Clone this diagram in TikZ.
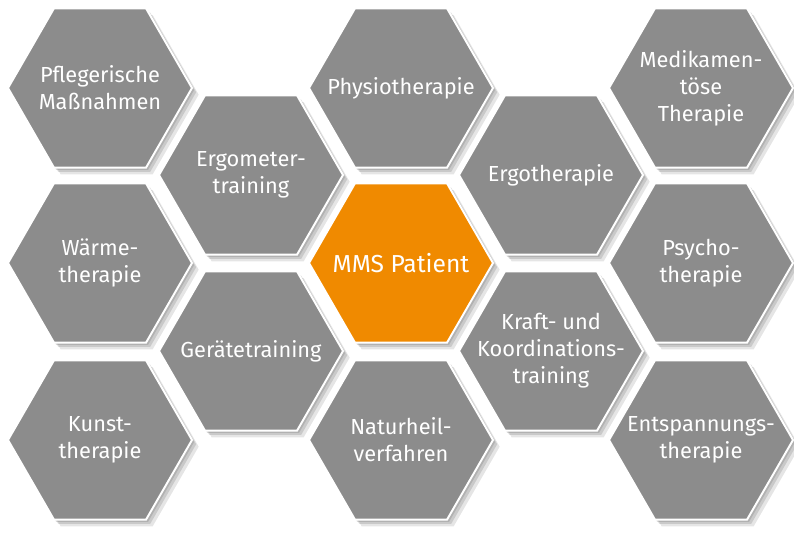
\documentclass[tikz,border=0pt]{standalone}
\usepackage{fontspec}
\setmainfont{Fira Sans}
\usetikzlibrary{shapes.geometric,shadows}

\definecolor{hexgray}{RGB}{140,140,140}
\definecolor{mmsorange}{RGB}{240,138,0}

\tikzset{
  softshadow/.style={
    drop shadow={shadow xshift=1.2pt, shadow yshift=-1.2pt, opacity=0.12, fill=black},
    drop shadow={shadow xshift=2.4pt, shadow yshift=-2.4pt, opacity=0.12, fill=black},
    drop shadow={shadow xshift=3.8pt, shadow yshift=-3.8pt, opacity=0.10, fill=black}},
  hex/.style={regular polygon, regular polygon sides=6, minimum size=3.68cm,
    inner sep=0pt, fill=hexgray, draw=white, line width=1.1pt, softshadow},
  hextext/.style={text=white, align=center, font=\fontsize{12.4}{15.4}\selectfont},
  mmstext/.style={text=white, font=\fontsize{14}{17}\selectfont},
}

\begin{document}
\begin{tikzpicture}[x=0.02cm, y=-0.02cm]
  \useasboundingbox (0,0) rectangle (794,535);

  % Draw the outer columns
  \node[hex, label={[hextext]center:{Pflegerische\\Maßnahmen}}] (pflege) at (100,88) {};
  \node[hex, label={[hextext]center:{Wärme-\\therapie}}] (waerme) at (100,263) {};
  \node[hex, label={[hextext]center:{Kunst-\\therapie}}] (kunst) at (100,440) {};

  \node[hex, label={[hextext]center:{Medikamen-\\töse\\Therapie}}] (medi) at (701,88) {};
  \node[hex, label={[hextext]center:{Psycho-\\therapie}}] (psycho) at (701,263) {};
  \node[hex, label={[hextext]center:{Entspannungs-\\therapie}}] (entspann) at (701,440) {};

  % Draw the inner columns
  \node[hex, label={[hextext]center:{Ergometer-\\training}}] (ergometer) at (251,175) {};
  \node[hex, label={[hextext]center:{Gerätetraining}}] (geraete) at (251,351) {};

  \node[hex, label={[hextext]center:{Ergotherapie}}] (ergo) at (551,175) {};
  \node[hex, label={[hextext]center:{Kraft- und\\Koordinations-\\training}}] (kraft) at (551,351) {};

  % Draw the middle column
  \node[hex, label={[hextext]center:{Physiotherapie}}] (physio) at (401,88) {};
  \node[hex, label={[hextext]center:{Naturheil-\\verfahren}}] (naturheil) at (401,440) {};
  \node[hex, fill=mmsorange, label={[mmstext]center:{MMS Patient}}] (mms) at (401,263) {};
\end{tikzpicture}
\end{document}
